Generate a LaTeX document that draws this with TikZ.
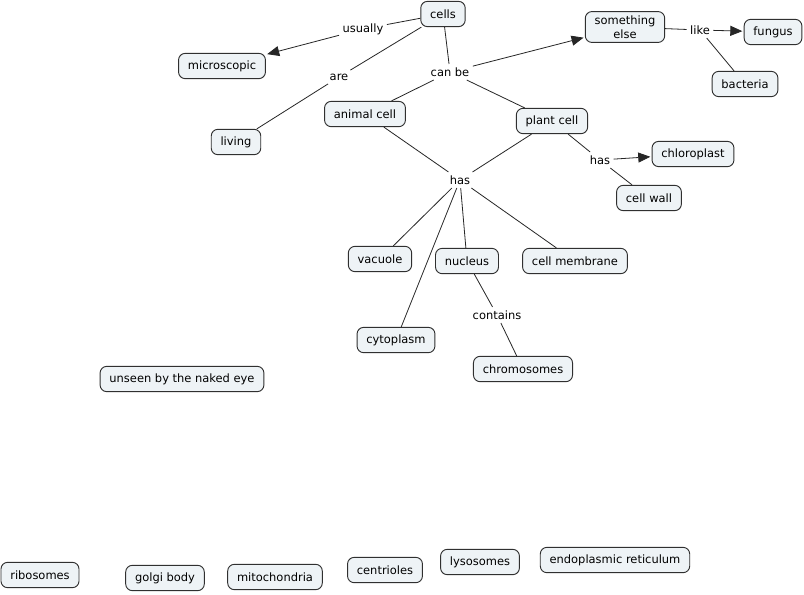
\documentclass[tikz,border=0pt]{standalone}
\usepackage{fontspec}
\setmainfont{DejaVu Sans}
\usetikzlibrary{arrows.meta}
\definecolor{boxfill}{HTML}{EEF3F6}
\definecolor{boxline}{HTML}{303030}
\begin{document}
\begin{tikzpicture}[x=0.75pt,y=-0.75pt,
  concept/.style={draw=boxline, fill=boxfill, rounded corners=5pt,
    font=\fontsize{8.6}{10.5}\selectfont, inner xsep=7pt, inner ysep=3pt,
    minimum height=19pt, align=center, line width=0.7pt},
  linkword/.style={font=\fontsize{8.6}{10.5}\selectfont, inner sep=2.5pt},
  conn/.style={draw=black!85, line width=0.6pt},
  arr/.style={conn, -{Triangle[length=9pt,width=7.5pt]}, shorten >=1pt}]
\useasboundingbox[fill=white] (0,0) rectangle (804,594);
% concepts
\node[concept] (cells) at (443,14) {cells};
\node[concept] (else) at (625,27) {something\\else};
\node[concept] (fungus) at (773,32) {fungus};
\node[concept] (bacteria) at (745,84) {bacteria};
\node[concept] (micro) at (222,66) {microscopic};
\node[concept] (living) at (236,142) {living};
\node[concept] (animal) at (365,114) {animal cell};
\node[concept] (plant) at (552,121) {plant cell};
\node[concept] (chloro) at (693,154) {chloroplast};
\node[concept] (wall) at (649,198) {cell wall};
\node[concept] (vacuole) at (380,259) {vacuole};
\node[concept] (nucleus) at (467,261) {nucleus};
\node[concept] (membrane) at (575,261) {cell membrane};
\node[concept] (cyto) at (396,340) {cytoplasm};
\node[concept] (chromo) at (523,369) {chromosomes};
\node[concept] (unseen) at (182,379) {unseen by the naked eye};
\node[concept] (ribo) at (40,575) {ribosomes};
\node[concept] (golgi) at (165,578) {golgi body};
\node[concept] (mito) at (275,577) {mitochondria};
\node[concept] (centri) at (385,570) {centrioles};
\node[concept] (lyso) at (480,562) {lysosomes};
\node[concept] (er) at (615,560) {endoplasmic reticulum};
% linking words
\node[linkword] (usually) at (363,29) {usually};
\node[linkword] (are) at (339,77) {are};
\node[linkword] (canbe) at (450,72) {can be};
\node[linkword] (like) at (700,30) {like};
\node[linkword] (has2) at (600,160) {has};
\node[linkword] (has) at (460,180) {has};
\node[linkword] (contains) at (497,315) {contains};
% connectors
\draw[conn] (cells) -- (usually);
\draw[arr] (usually) -- (micro);
\draw[conn] (cells) -- (are);
\draw[conn] (are) -- (living);
\draw[conn] (cells) -- (canbe);
\draw[conn] (canbe) -- (animal);
\draw[conn] (canbe) -- (plant);
\draw[arr] (canbe) -- (else);
\draw[conn] (else) -- (like);
\draw[arr] (like) -- (fungus);
\draw[conn] (like) -- (bacteria);
\draw[conn] (plant) -- (has2);
\draw[arr] (has2) -- (chloro);
\draw[conn] (has2) -- (wall);
\draw[conn] (animal) -- (has);
\draw[conn] (plant) -- (has);
\draw[conn] (has) -- (vacuole);
\draw[conn] (has) -- (cyto);
\draw[conn] (has) -- (nucleus);
\draw[conn] (has) -- (membrane);
\draw[conn] (nucleus) -- (contains);
\draw[conn] (contains) -- (chromo);
\end{tikzpicture}
\end{document}
